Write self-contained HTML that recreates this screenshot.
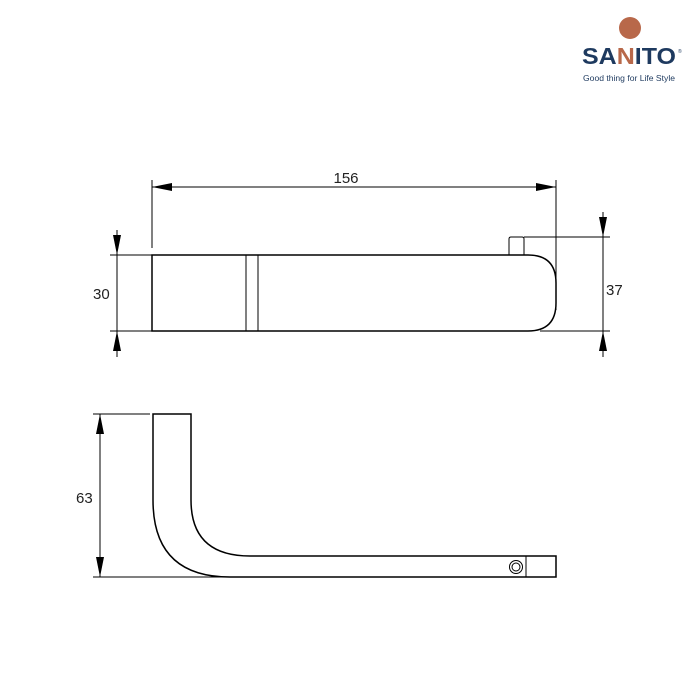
<!DOCTYPE html>
<html><head><style>body{margin:0;background:#fff}svg{display:block}</style></head><body>
<svg width="700" height="700" viewBox="0 0 700 700" xmlns="http://www.w3.org/2000/svg" font-family="Liberation Sans, sans-serif">
<circle cx="630" cy="28" r="11" fill="#b8684a"/>
<text x="629" y="64" text-anchor="middle" font-size="23" font-weight="bold" fill="#1e3a5f" textLength="94" lengthAdjust="spacingAndGlyphs">SA<tspan fill="#b8684a">N</tspan>ITO</text>
<text x="678" y="53" font-size="5" fill="#1e3a5f">®</text>
<text x="629" y="81" text-anchor="middle" font-size="8" fill="#1e3a5f" textLength="92" lengthAdjust="spacingAndGlyphs">Good thing for Life Style</text>
<g stroke="#000" fill="none" stroke-width="1">
<line x1="152" y1="180" x2="152" y2="248"/>
<line x1="556" y1="180" x2="556" y2="310"/>
<line x1="152" y1="187" x2="556" y2="187"/>
<line x1="110" y1="255" x2="152" y2="255"/>
<line x1="110" y1="331" x2="152" y2="331"/>
<line x1="117" y1="230" x2="117" y2="357"/>
<line x1="524" y1="237" x2="610" y2="237"/>
<line x1="540" y1="331" x2="610" y2="331"/>
<line x1="603" y1="212" x2="603" y2="357"/>
<line x1="93" y1="414" x2="150" y2="414"/>
<line x1="93" y1="577" x2="240" y2="577"/>
<line x1="100" y1="414" x2="100" y2="577"/>
</g>
<g fill="#000">
<polygon points="152,187 172,183 172,191"/>
<polygon points="556,187 536,183 536,191"/>
<polygon points="117,255 113,235 121,235"/>
<polygon points="117,331 113,351 121,351"/>
<polygon points="603,237 599,217 607,217"/>
<polygon points="603,331 599,351 607,351"/>
<polygon points="100,414 96,434 104,434"/>
<polygon points="100,577 96,557 104,557"/>
</g>
<g stroke="#000" fill="none" stroke-width="1.5">
<path d="M152,255 H528 Q556,255 556,283 V303 Q556,331 528,331 H152 Z"/>
<line x1="246" y1="255" x2="246" y2="331" stroke-width="1"/>
<line x1="258" y1="255" x2="258" y2="331" stroke-width="1"/>
<path d="M509,255 V239 Q509,237 511,237 H522 Q524,237 524,239 V255" stroke-width="1"/>
<path d="M153,414 V500 Q153,577 230,577 H556 V556 H250 Q191,556 191,500 V414 Z"/>
<line x1="526" y1="556" x2="526" y2="577" stroke-width="1"/>
<circle cx="516" cy="567" r="6.5" stroke-width="1"/>
<circle cx="516" cy="567" r="4" stroke-width="1"/>
</g>
<g font-size="15" fill="#222">
<text x="346" y="183" text-anchor="middle">156</text>
<text x="93" y="299">30</text>
<text x="606" y="295">37</text>
<text x="76" y="503">63</text>
</g>
</svg>
</body></html>
